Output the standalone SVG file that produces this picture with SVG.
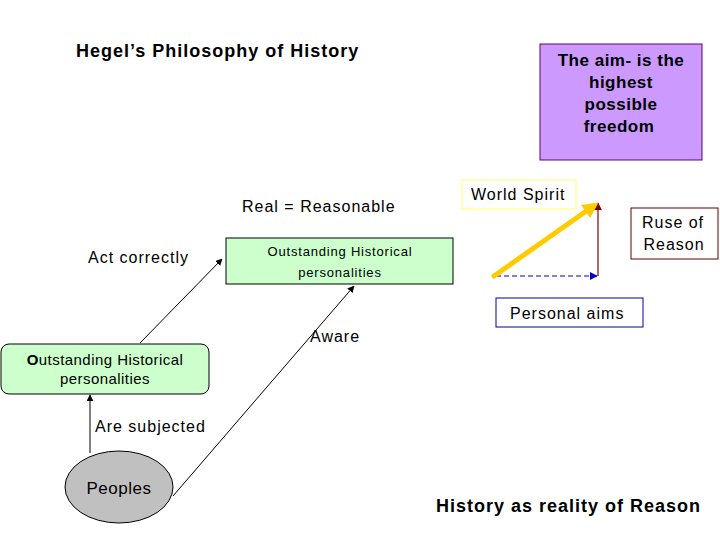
<svg xmlns="http://www.w3.org/2000/svg" width="720" height="540" viewBox="0 0 720 540">
<style>
text{font-family:"Liberation Sans",Arial,sans-serif;fill:#000}
.b{font-weight:bold;font-size:18px;letter-spacing:1px}
.t{font-size:16px;letter-spacing:1px}
.c{text-anchor:middle}
.p{font-weight:bold;font-size:17px;letter-spacing:0.5px}
.ln{stroke:#000;stroke-width:1;fill:none}
</style>
<defs>
<marker id="ak" viewBox="0 0 10 10" refX="9" refY="5" markerWidth="7" markerHeight="7" orient="auto" markerUnits="userSpaceOnUse"><path d="M0,0L10,5L0,10z" fill="#000"/></marker>
<marker id="ab" viewBox="0 0 10 10" refX="9" refY="5" markerWidth="8" markerHeight="8" orient="auto" markerUnits="userSpaceOnUse"><path d="M0,0L10,5L0,10z" fill="#0000cc"/></marker>
<marker id="ar" viewBox="0 0 10 10" refX="9" refY="5" markerWidth="8" markerHeight="8" orient="auto" markerUnits="userSpaceOnUse"><path d="M0,0L10,5L0,10z" fill="#800000"/></marker>
<marker id="ay" viewBox="0 0 10 10" refX="5" refY="5" markerWidth="16" markerHeight="16" orient="auto" markerUnits="userSpaceOnUse"><path d="M0,0L10,5L0,10z" fill="#ffcc00"/></marker>
</defs>
<rect width="720" height="540" fill="#fff"/>
<text id="title" class="b" x="76" y="57">Hegel’s Philosophy of History</text>
<g id="aim">
<rect x="540" y="44" width="162" height="116" fill="#cc99ff" stroke="#660066"/>
<text class="p c" x="621" y="66">The aim- is the</text>
<text class="p c" x="621" y="88">highest</text>
<text class="p c" x="621" y="110">possible</text>
<text class="p c" x="619" y="132">freedom</text>
</g>
<g id="worldspirit">
<rect x="462" y="180" width="114" height="29" fill="#fff" stroke="#ffff66"/>
<text class="t" x="471" y="200">World Spirit</text>
</g>
<g id="ruse">
<rect x="631" y="208" width="87" height="51" fill="#fff" stroke="#660000"/>
<text class="t c" x="673" y="228">Ruse of</text>
<text class="t c" x="674" y="250">Reason</text>
</g>
<g id="personal">
<rect x="496" y="298" width="147" height="29" fill="#fff" stroke="#000099"/>
<text class="t" x="510" y="319">Personal aims</text>
</g>
<text id="real" class="t" x="242" y="212">Real = Reasonable</text>
<g id="oh2">
<rect x="226" y="238" width="227" height="46" fill="#ccffcc" stroke="#000"/>
<text class="c" x="340" y="256" font-size="13" letter-spacing="0.8">Outstanding Historical</text>
<text class="c" x="340" y="277" font-size="13" letter-spacing="0.8">personalities</text>
</g>
<g id="oh1">
<rect x="1" y="344" width="208" height="50" rx="8" fill="#ccffcc" stroke="#000"/>
<text class="c" x="105" y="365" font-size="15" letter-spacing="0.45"><tspan font-weight="bold">O</tspan>utstanding Historical</text>
<text class="c" x="105" y="384" font-size="15" letter-spacing="0.45">personalities</text>
</g>
<g id="peoples">
<ellipse cx="119" cy="487" rx="54" ry="36" fill="#c0c0c0" stroke="#000"/>
<text class="c" x="119" y="494" font-size="17" letter-spacing="0.5">Peoples</text>
</g>
<text class="t" x="88" y="263">Act correctly</text>
<text class="t" x="310" y="342">Aware</text>
<text class="t" x="95" y="432">Are subjected</text>
<text id="footer" class="b" x="436" y="512">History as reality of Reason</text>
<g id="connectors">
<line class="ln" x1="140" y1="343" x2="222" y2="259" marker-end="url(#ak)"/>
<line class="ln" x1="173" y1="496" x2="354" y2="286" marker-end="url(#ak)"/>
<line class="ln" x1="90" y1="453" x2="90" y2="395" marker-end="url(#ak)"/>
<line x1="496" y1="276" x2="597" y2="276" stroke="#0000cc" stroke-width="1" stroke-dasharray="5,3" marker-end="url(#ab)"/>
<line x1="598" y1="276" x2="598" y2="203" stroke="#800000" stroke-width="1.2" marker-end="url(#ar)"/>
<line x1="494" y1="276" x2="592" y2="207" stroke="#ffcc00" stroke-width="5" stroke-linecap="round" marker-end="url(#ay)"/>
</g>
</svg>
